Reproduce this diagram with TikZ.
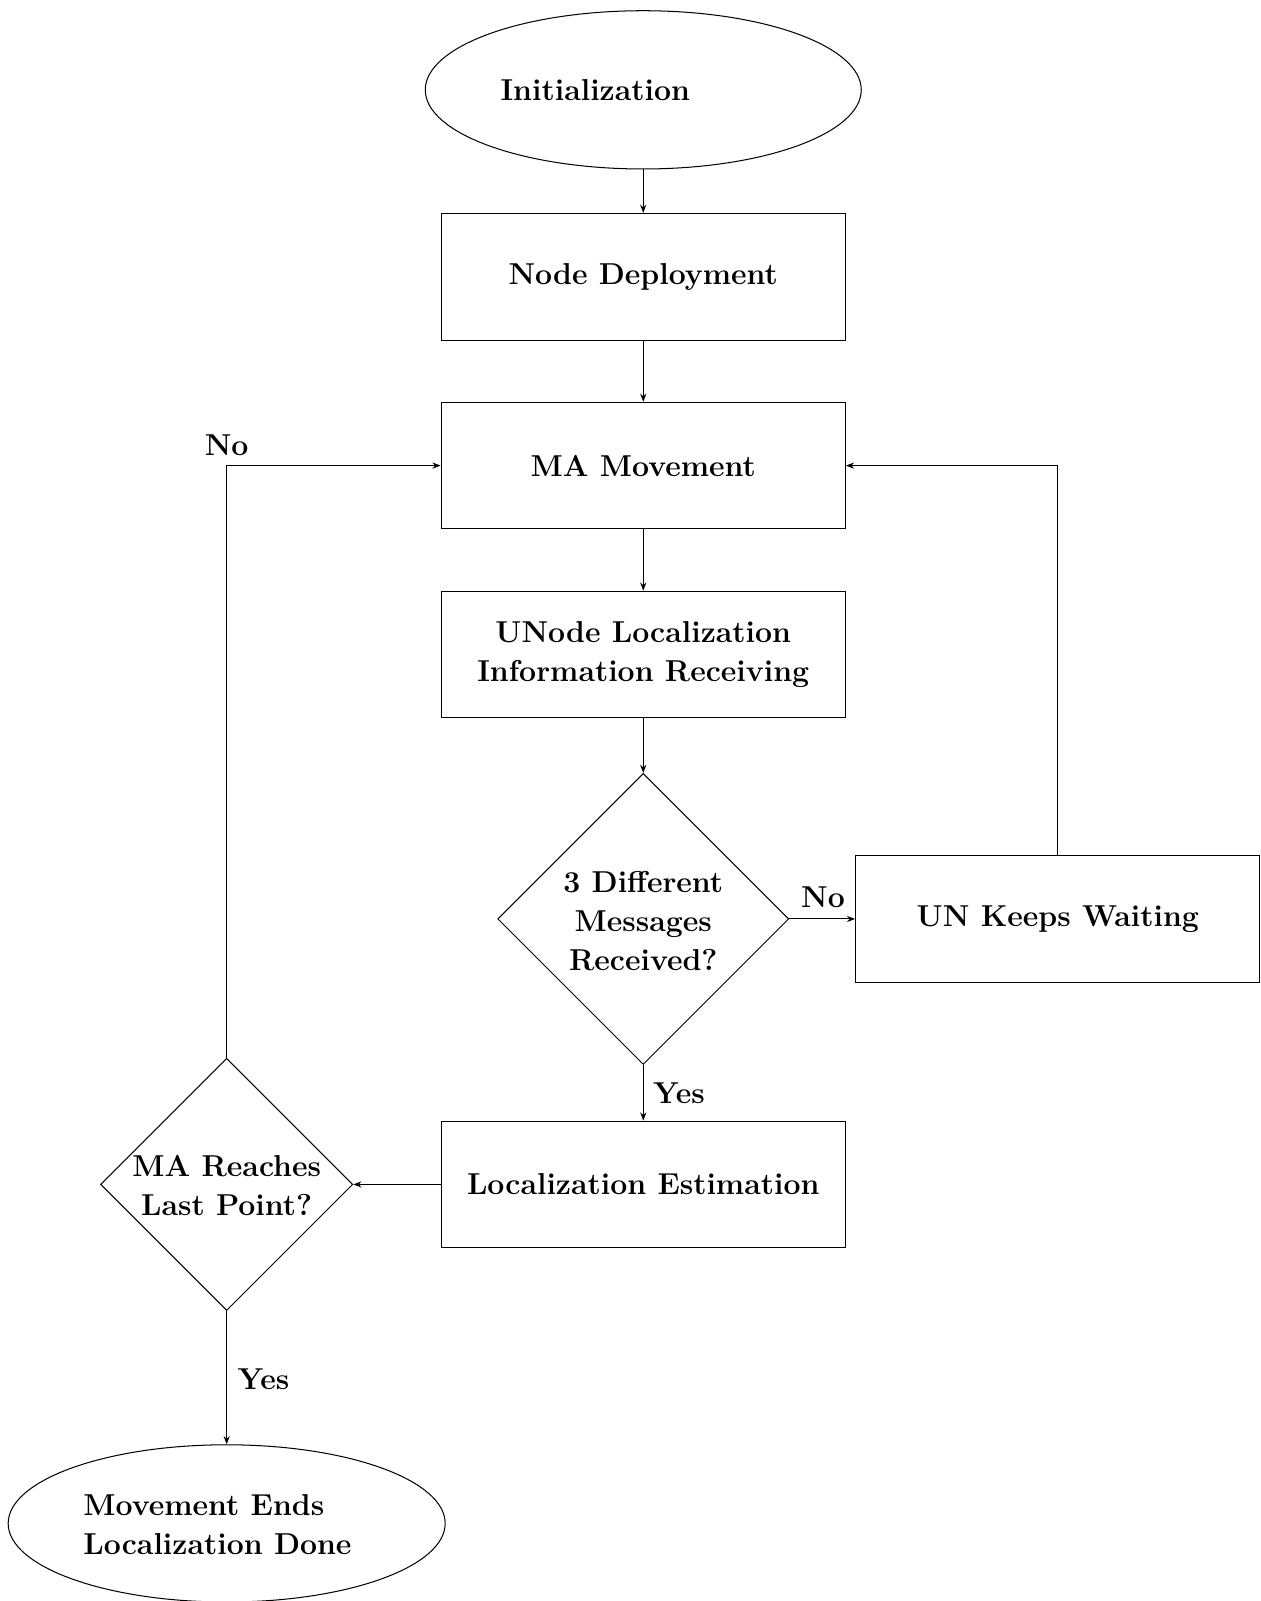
\documentclass[tikz,border=0pt]{standalone}
\usetikzlibrary{shapes.geometric,arrows.meta}
\begin{document}
\begin{tikzpicture}[x=0.5pt,y=-0.5pt,
  every node/.style={font=\fontsize{14.8}{19}\selectfont\bfseries},
  box/.style={draw,line width=0.5pt,minimum width=198pt,minimum height=62pt,inner sep=0pt,align=center},
  oval/.style={draw,ellipse,line width=0.5pt,minimum width=213.5pt,minimum height=77.5pt,inner sep=0pt},
  dia/.style={draw,diamond,line width=0.5pt,aspect=1,inner sep=0pt},
  txt/.style={inner sep=0pt,align=center},
  conn/.style={line width=0.5pt,-{Stealth[length=4pt,width=3pt]}}]
\useasboundingbox (0,0) rectangle (1235,1568);
\node[oval] (init) at (630,88) {};
\node[txt] (initT) at (583,88) {Initialization};
\node[box] (nd) at (630,271) {Node Deployment};
\node[box] (ma) at (630,456) {MA Movement};
\node[box] (un) at (630,641) {UNode Localization\\Information Receiving};
\node[dia,minimum width=142.5pt,minimum height=142.5pt] (d1) at (630,900) {};
\node[txt] (d1T) at (630,902) {3 Different\\Messages\\Received?};
\node[box] (wait) at (1036,900) {UN Keeps Waiting};
\node[box] (le) at (630,1160) {Localization Estimation};
\node[dia,minimum width=123.5pt,minimum height=123.5pt] (d2) at (222,1160) {};
\node[txt] (d2T) at (222,1161) {MA Reaches\\Last Point?};
\node[oval,minimum width=214pt,minimum height=77pt] (end) at (222,1492) {};
\node[txt,align=left] (endT) at (213,1493) {Movement Ends\\Localization Done};
\coordinate (c1) at (1036,456);
\coordinate (c2) at (222,456);
\draw[conn] (init.south) -- (nd.north);
\draw[conn] (nd) -- (ma);
\draw[conn] (ma) -- (un);
\draw[conn] (un.south) -- (d1.north);
\draw[conn] (d1.east) -- (wait.west);
\draw[conn] (wait.north) -- (c1) -- (ma.east);
\draw[conn] (d1.south) -- (le.north);
\draw[conn] (le.west) -- (d2.east);
\draw[conn] (d2.north) -- (c2) -- (ma.west);
\draw[conn] (d2.south) -- (end.north);
\node[txt] (no1) at (222,436) {No};
\node[txt] (no2) at (806,879) {No};
\node[txt] (yes1) at (665,1071) {Yes};
\node[txt] (yes2) at (258,1351) {Yes};
\end{tikzpicture}
\end{document}
